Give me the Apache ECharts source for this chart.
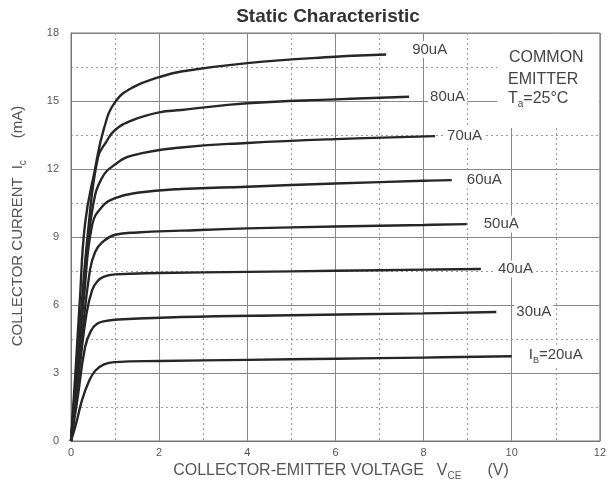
<!DOCTYPE html>
<html>
<head>
<meta charset="utf-8">
<script src="https://cdn.jsdelivr.net/npm/echarts@6/dist/echarts.min.js"></script>
<style>
html,body{margin:0;padding:0;background:#fff;}
#c{width:609px;height:490px;}
</style>
</head>
<body>
<div id="c"></div>
<script>
const xTicks = [0, 2, 4, 6, 8, 10, 12];
const yTicks = [0, 3, 6, 9, 12, 15, 18];
const curveNames = ['90uA', '80uA', '70uA', '60uA', '50uA', '40uA', '30uA', 'IB=20uA'];

const ib90 = [[0,0],[0.1,3],[0.2,6.2],[0.32,9.6],[0.54,11.95],[0.75,13.8],[1.0,14.95],[1.4,15.6],[2.0,16.05],[2.5,16.3],[4,16.67],[6,16.95],[7.15,17.05]];
const ib80 = [[0,0],[0.2,5],[0.4,9.5],[0.61,12.5],[0.8,13.2],[1.0,13.72],[1.4,14.16],[2.0,14.5],[2.5,14.6],[4,14.9],[6,15.07],[7.67,15.19]];
const ib70 = [[0,0],[0.2,4.5],[0.35,8],[0.5,10.4],[0.7,11.6],[1.0,12.2],[1.4,12.6],[2.5,12.95],[4,13.15],[6,13.32],[8.26,13.45]];
const ib60 = [[0,0],[0.15,3.3],[0.3,6.5],[0.48,9.53],[0.7,10.32],[1.0,10.72],[1.5,10.95],[2.5,11.12],[4,11.22],[6,11.36],[8,11.48],[8.64,11.51]];
const ib50 = [[0,0],[0.25,4.6],[0.43,7.54],[0.55,8.35],[0.7,8.75],[1.0,9.1],[1.5,9.2],[2.5,9.28],[4,9.38],[6,9.46],[8,9.53],[8.98,9.57]];
const ib40 = [[0,0],[0.2,3.3],[0.35,5.6],[0.48,6.66],[0.6,7.05],[0.75,7.25],[1.0,7.35],[2.0,7.41],[4,7.46],[6,7.51],[8,7.56],[9.3,7.59]];
const ib30 = [[0,0],[0.15,1.9],[0.32,4.15],[0.45,4.85],[0.6,5.18],[0.8,5.3],[1.0,5.35],[2.5,5.47],[5,5.55],[8,5.63],[9.65,5.69]];
const ib20 = [[0,0],[0.12,0.8],[0.25,1.8],[0.4,2.6],[0.55,3.1],[0.75,3.38],[1.0,3.48],[2.0,3.53],[4,3.58],[6,3.63],[8,3.68],[10,3.74]];
const curveData = [ib90, ib80, ib70, ib60, ib50, ib40, ib30, ib20];
const labelGaps = [24, 19, 10, 13, 15, 15, 18, 15];

const FONT = '"Liberation Sans", Arial, sans-serif';

const series = curveData.map((d, i) => ({
  name: curveNames[i],
  type: 'line',
  data: d,
  smooth: 0.45,
  showSymbol: false,
  symbol: 'none',
  lineStyle: { color: '#262626', width: 2.4 },
  emphasis: { disabled: true },
  z: 3,
  endLabel: {
    show: true,
    distance: labelGaps[i],
    offset: i === 0 ? [0, -5] : (i === 7 ? [0, -1] : [0, 0]),
    color: '#444',
    fontFamily: FONT,
    fontSize: 15,
    backgroundColor: '#fff',
    padding: [1, 2, 1, 2],
    formatter: i === 7 ? '{a|I}{s|B}{a|=20uA}' : curveNames[i],
    rich: {
      a: { color: '#444', fontSize: 15, fontFamily: FONT },
      s: { color: '#444', fontSize: 9, fontFamily: FONT, padding: [10, 0, 0, 0] }
    }
  }
}));

const chart = echarts.init(document.getElementById('c'), null, { renderer: 'canvas' });
chart.setOption({
  animation: false,
  backgroundColor: '#fff',
  title: {
    text: 'Static Characteristic',
    left: 323,
    textAlign: 'center',
    top: 2,
    textStyle: { fontFamily: FONT, fontSize: 19, fontWeight: 'bold', color: '#333' }
  },
  grid: { left: 71, right: 8, top: 33, bottom: 49, show: true, borderColor: '#777', borderWidth: 1, backgroundColor: 'transparent' },
  xAxis: {
    type: 'value',
    min: xTicks[0], max: xTicks[xTicks.length - 1], interval: 2,
    name: '{g0|}{a|COLLECTOR-EMITTER VOLTAGE}{g|}{a|V}{s|CE}{g2|}{a|(V)}',
    nameLocation: 'middle',
    nameGap: 16,
    nameTextStyle: {
      rich: {
        g0: { width: 11 },
        a: { color: '#555', fontSize: 16, fontFamily: FONT },
        g: { width: 13 },
        g2: { width: 26 },
        s: { color: '#555', fontSize: 10, fontFamily: FONT, padding: [10, 0, 0, 0] }
      }
    },
    axisLine: { show: true, lineStyle: { color: '#777', width: 1 } },
    axisTick: { show: false },
    axisLabel: { color: '#555', fontSize: 11, fontFamily: FONT, margin: 6 },
    splitLine: { show: true, lineStyle: { color: '#888', width: 1 } },
    minorTick: { show: false, splitNumber: 2 },
    minorSplitLine: { show: true, lineStyle: { color: '#999', width: 1, type: [2, 3] } }
  },
  yAxis: {
    type: 'value',
    min: yTicks[0], max: yTicks[yTicks.length - 1], interval: 3,
    name: '{g0|}{a|COLLECTOR CURRENT}{g|}{a|I}{s|c}{g2|}{a|(mA)}',
    nameLocation: 'middle',
    nameGap: 43,
    nameRotate: 90,
    nameTextStyle: {
      rich: {
        g0: { width: 22 },
        a: { color: '#555', fontSize: 15, fontFamily: FONT },
        g: { width: 8 },
        g2: { width: 22 },
        s: { color: '#555', fontSize: 10, fontFamily: FONT, padding: [10, 0, 0, 0] }
      }
    },
    axisLine: { show: true, lineStyle: { color: '#777', width: 1 } },
    axisTick: { show: false },
    axisLabel: { color: '#555', fontSize: 11, fontFamily: FONT, margin: 12 },
    splitLine: { show: true, lineStyle: { color: '#888', width: 1 } },
    minorTick: { show: false, splitNumber: 2 },
    minorSplitLine: { show: true, lineStyle: { color: '#999', width: 1, type: [2, 3] } }
  },
  graphic: [
    { type: 'rect', left: 497, top: 34, shape: { width: 102, height: 94 }, style: { fill: '#fff' }, z: 5 },
    { type: 'text', left: 509, top: 50, z: 6, style: { text: 'COMMON', fill: '#444', font: '16px ' + FONT } },
    { type: 'text', left: 508, top: 72, z: 6, style: { text: 'EMITTER', fill: '#444', font: '16px ' + FONT } },
    { type: 'text', left: 508, top: 91, z: 6, style: {
        text: '{a|T}{s|a}{a|=25\u00B0C}',
        rich: {
          a: { fill: '#444', fontSize: 16, fontFamily: FONT },
          s: { fill: '#444', fontSize: 10, fontFamily: FONT, padding: [10, 0, 0, 0] }
        }
      } }
  ],
  series: series
});
</script>
</body>
</html>
